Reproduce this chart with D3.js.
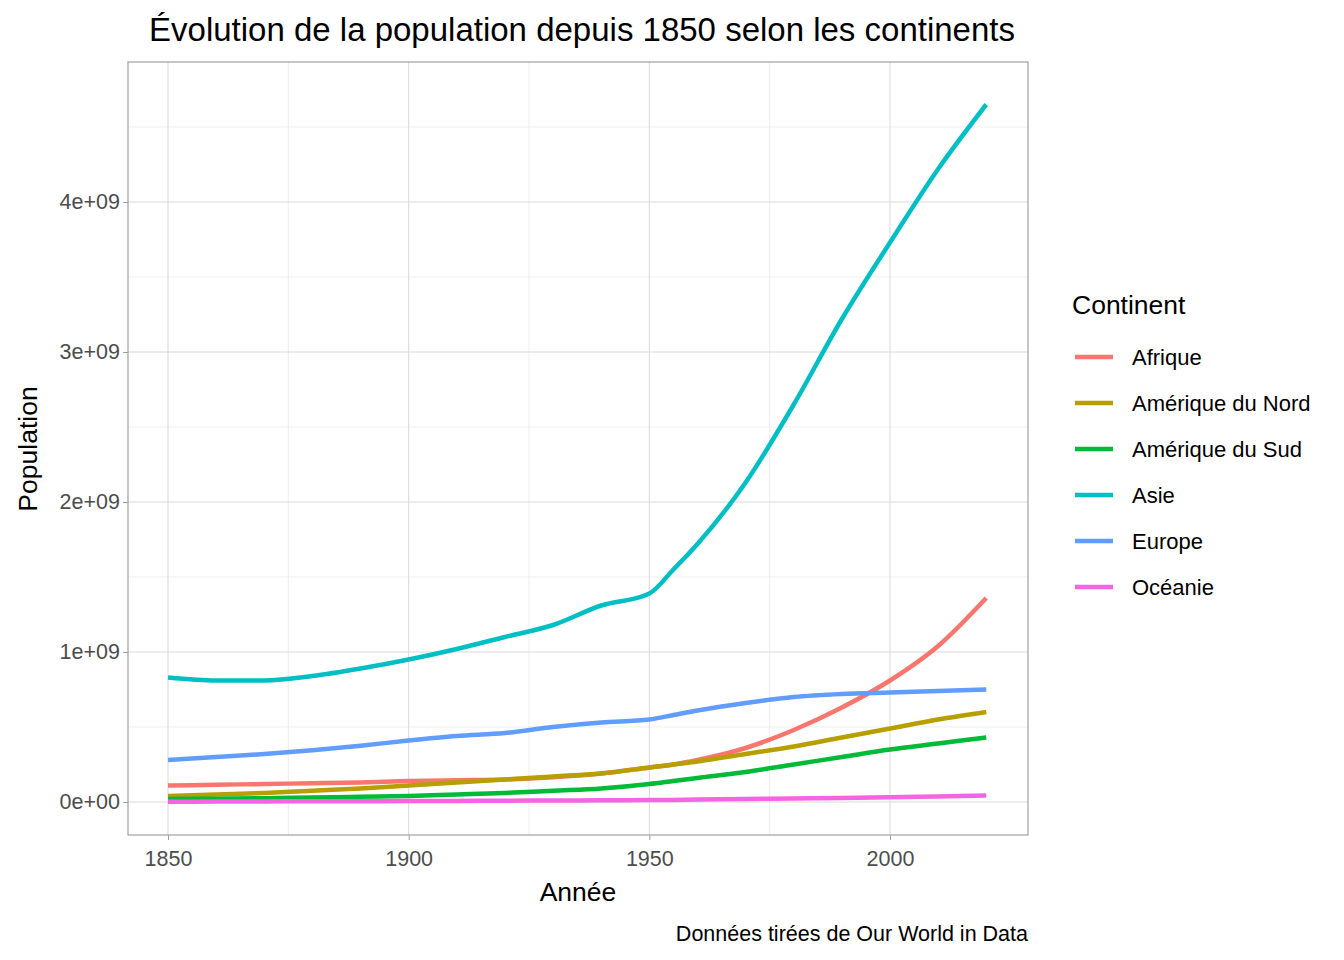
<!DOCTYPE html>
<html><head><meta charset="utf-8">
<script src="https://cdn.jsdelivr.net/npm/d3@7"></script>
<style>body{margin:0;background:#fff;font-family:Arial,"Liberation Sans",sans-serif}</style>
</head><body>
<script>
const years = [1850,1860,1870,1880,1890,1900,1910,1920,1930,1940,1950,1955,1960,1970,1980,1990,2000,2010,2020];
const continents = ["Afrique","Amérique du Nord","Amérique du Sud","Asie","Europe","Océanie"];
const colors = ["#F8766D","#B79F00","#00BA38","#00BFC4","#619CFF","#F564E3"];
const afrique = [0.11,0.115,0.12,0.125,0.13,0.14,0.145,0.15,0.165,0.19,0.23,0.25,0.28,0.36,0.48,0.63,0.81,1.04,1.36];
const ameriqueNord = [0.04,0.05,0.06,0.075,0.09,0.11,0.13,0.15,0.17,0.19,0.23,0.25,0.27,0.32,0.37,0.43,0.49,0.55,0.60];
const ameriqueSud = [0.02,0.022,0.025,0.03,0.035,0.04,0.05,0.06,0.075,0.09,0.12,0.14,0.16,0.20,0.25,0.30,0.35,0.39,0.43];
const asie = [0.83,0.81,0.81,0.84,0.89,0.95,1.02,1.10,1.18,1.31,1.39,1.55,1.72,2.13,2.65,3.22,3.73,4.22,4.65];
const europe = [0.28,0.30,0.32,0.345,0.375,0.41,0.44,0.46,0.50,0.53,0.55,0.58,0.61,0.66,0.70,0.72,0.73,0.74,0.75];
const oceanie = [0.002,0.003,0.004,0.005,0.005,0.006,0.007,0.009,0.010,0.011,0.013,0.014,0.016,0.020,0.023,0.027,0.031,0.037,0.043];
const series = [afrique,ameriqueNord,ameriqueSud,asie,europe,oceanie];
const xTicks = [1850,1900,1950,2000], xMinor = [1875,1925,1975];
const yTicks = [0,1,2,3,4], yMinor = [0.5,1.5,2.5,3.5,4.5];

const svg = d3.select("body").append("svg").attr("width",1344).attr("height",960);
const L=128,R=1028,T=62,B=835;
const x = d3.scaleLinear().domain([1850,2000]).range([168,890]);
const y = d3.scaleLinear().domain([0,4]).range([802,202]);
const g = svg.append("g");
g.selectAll(".mn").data(xMinor).enter().append("line").attr("x1",x).attr("x2",x).attr("y1",T).attr("y2",B).attr("stroke","#e6e6e6").attr("stroke-width",0.7);
g.selectAll(".mny").data(yMinor).enter().append("line").attr("y1",y).attr("y2",y).attr("x1",L).attr("x2",R).attr("stroke","#e6e6e6").attr("stroke-width",0.7);
g.selectAll(".mj").data(xTicks).enter().append("line").attr("x1",x).attr("x2",x).attr("y1",T).attr("y2",B).attr("stroke","#d9d9d9").attr("stroke-width",1);
g.selectAll(".mjy").data(yTicks).enter().append("line").attr("y1",y).attr("y2",y).attr("x1",L).attr("x2",R).attr("stroke","#d9d9d9").attr("stroke-width",1);
svg.append("rect").attr("x",L).attr("y",T).attr("width",R-L).attr("height",B-T).attr("fill","none").attr("stroke","#a0a0a0").attr("stroke-width",1.2);

const line = d3.line().x((d,i)=>x(years[i])).y(d=>y(d)).curve(d3.curveMonotoneX);
series.forEach((s,k)=>{
  svg.append("path").datum(s).attr("d",line).attr("fill","none").attr("stroke",colors[k]).attr("stroke-width",4.5);
});

const xa = svg.append("g").attr("transform",`translate(0,${B})`).call(d3.axisBottom(x).tickValues(xTicks).tickFormat(d3.format("d")).tickSize(5));
xa.select(".domain").remove();
xa.selectAll("line").attr("stroke","#a0a0a0");
xa.selectAll("text").attr("font-size",21.5).attr("fill","#4d4d4d").attr("dy","1.05em");
const ya = svg.append("g").attr("transform",`translate(${L},0)`).call(d3.axisLeft(y).tickValues(yTicks).tickFormat(d=>d+"e+"+(d?"09":"00")).tickSize(5));
ya.select(".domain").remove();
ya.selectAll("line").attr("stroke","#a0a0a0");
ya.selectAll("text").attr("font-size",21.5).attr("fill","#4d4d4d");

svg.append("text").attr("x",582).attr("y",41).attr("text-anchor","middle").attr("font-size",33).text("Évolution de la population depuis 1850 selon les continents");
svg.append("text").attr("x",578).attr("y",901).attr("text-anchor","middle").attr("font-size",26.5).text("Année");
svg.append("text").attr("transform","translate(37,449) rotate(-90)").attr("text-anchor","middle").attr("font-size",26.5).text("Population");
svg.append("text").attr("x",1028).attr("y",941).attr("text-anchor","end").attr("font-size",21.5).text("Données tirées de Our World in Data");

svg.append("text").attr("x",1072).attr("y",314).attr("font-size",26.5).text("Continent");
const lg = svg.selectAll(".lg").data(continents).enter().append("g").attr("transform",(d,i)=>`translate(1075,${357+46*i})`);
lg.append("line").attr("x1",0).attr("x2",38).attr("stroke",(d,i)=>colors[i]).attr("stroke-width",4.5);
lg.append("text").attr("x",57).attr("y",8).attr("font-size",22).text(d=>d);
</script>
</body></html>
